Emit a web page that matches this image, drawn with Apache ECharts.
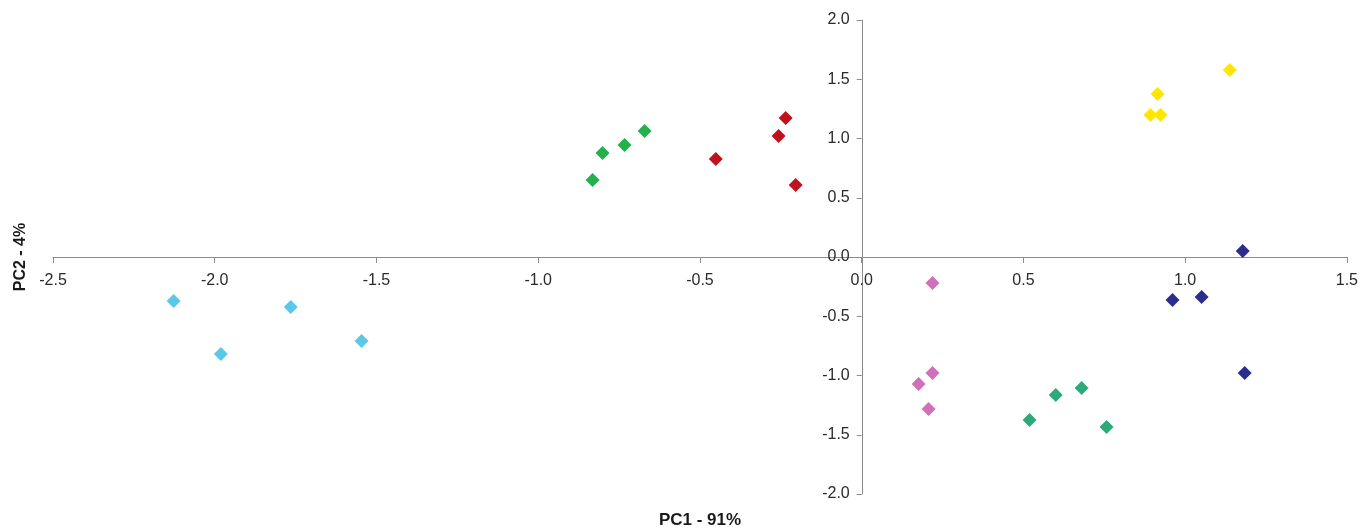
<!DOCTYPE html>
<html>
<head>
<meta charset="utf-8">
<script src="https://cdn.jsdelivr.net/npm/echarts@6/dist/echarts.min.js"></script>
<style>
  html, body { margin: 0; padding: 0; background: #fff; }
  #chart { width: 1361px; height: 527px; }
</style>
</head>
<body>
<div id="chart"></div>
<script>
// PCA score plot: seven groups of samples on PC1 / PC2
const groupNames = ['A', 'B', 'C', 'D', 'E', 'F', 'G'];
const groupColors = ['#5cc8e8', '#22b14c', '#c0111f', '#ffe600', '#2b2e8c', '#d070b8', '#2eaa7a'];

const groupA = [[-2.127, -0.371], [-1.981, -0.819], [-1.765, -0.422], [-1.546, -0.709]];
const groupB = [[-0.832, 0.650], [-0.801, 0.878], [-0.733, 0.945], [-0.671, 1.063]];
const groupC = [[-0.451, 0.827], [-0.257, 1.021], [-0.235, 1.173], [-0.204, 0.608]];
const groupD = [[0.893, 1.198], [0.924, 1.198], [0.915, 1.376], [1.138, 1.578]];
const groupE = [[1.178, 0.051], [0.961, -0.363], [1.051, -0.338], [1.184, -0.979]];
const groupF = [[0.219, -0.219], [0.219, -0.979], [0.176, -1.072], [0.207, -1.283]];
const groupG = [[0.519, -1.376], [0.600, -1.165], [0.680, -1.105], [0.757, -1.435]];
const groups = [groupA, groupB, groupC, groupD, groupE, groupF, groupG];

const xTitle = 'PC1 - 91%';
const yTitle = 'PC2 - 4%';

const xMin = -2.5, xMax = 1.5;
const yMin = -2.0, yMax = 2.0;

const font = 'Liberation Sans, Arial, sans-serif';
const axisGrey = '#8c8c8c';

const grid = { left: 53, right: 14, top: 20, bottom: 33 };
const W = 1361, H = 527;
const plotW = W - grid.left - grid.right;
const plotH = H - grid.top - grid.bottom;

// The axes cross at the origin: shift each axis from its edge to the zero line
const xAxisOffset = -plotH * (0 - yMin) / (yMax - yMin);
const yAxisOffset = -plotW * (0 - xMin) / (xMax - xMin);

const chart = echarts.init(document.getElementById('chart'), null, { renderer: 'canvas' });

chart.setOption({
  animation: false,
  grid: Object.assign({ containLabel: false }, grid),
  xAxis: {
    type: 'value', min: xMin, max: xMax, interval: 0.5,
    position: 'bottom', offset: xAxisOffset,
    axisLine: { onZero: false, lineStyle: { color: axisGrey, width: 1 } },
    axisTick: { show: true, length: 6, lineStyle: { color: axisGrey } },
    axisLabel: { margin: 16, color: '#2a2a2a', fontSize: 16, fontFamily: font,
      formatter: v => v.toFixed(1) },
    splitLine: { show: false }
  },
  yAxis: {
    type: 'value', min: yMin, max: yMax, interval: 0.5,
    position: 'left', offset: yAxisOffset,
    axisLine: { onZero: false, lineStyle: { color: axisGrey, width: 1 } },
    axisTick: { show: true, length: 5, lineStyle: { color: axisGrey } },
    axisLabel: { margin: 12, color: '#2a2a2a', fontSize: 16, fontFamily: font,
      formatter: v => v.toFixed(1) },
    splitLine: { show: false }
  },
  graphic: [
    { type: 'text', x: grid.left + plotW / 2, y: 520,
      style: { text: xTitle, font: 'bold 17px ' + font, fill: '#1a1a1a',
        align: 'center', verticalAlign: 'middle' } },
    { type: 'text', x: 21, y: 257, rotation: Math.PI / 2,
      style: { text: yTitle, font: 'bold 16px ' + font, fill: '#1a1a1a',
        align: 'center', verticalAlign: 'middle' } }
  ],
  series: groups.map((g, i) => ({
    name: groupNames[i],
    type: 'scatter',
    symbol: 'diamond',
    symbolSize: 14,
    itemStyle: { color: groupColors[i], opacity: 1 },
    data: g
  }))
});
</script>
</body>
</html>
